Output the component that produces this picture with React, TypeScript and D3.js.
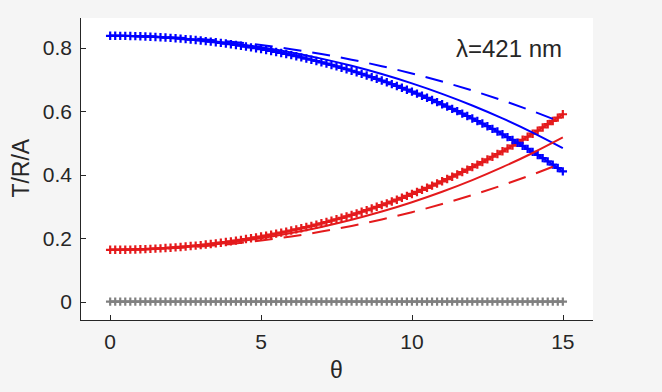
import React from "react";
import * as d3 from "d3";

// sampling grid of the marker curves (deg)
const thetaFine = [
  0, 0.167, 0.333, 0.5, 0.667, 0.833, 1, 1.167, 1.333, 1.5, 1.667, 1.833,
  2, 2.167, 2.333, 2.5, 2.667, 2.833, 3, 3.167, 3.333, 3.5, 3.667, 3.833,
  4, 4.167, 4.333, 4.5, 4.667, 4.833, 5, 5.167, 5.333, 5.5, 5.667, 5.833,
  6, 6.167, 6.333, 6.5, 6.667, 6.833, 7, 7.167, 7.333, 7.5, 7.667, 7.833,
  8, 8.167, 8.333, 8.5, 8.667, 8.833, 9, 9.167, 9.333, 9.5, 9.667, 9.833,
  10, 10.167, 10.333, 10.5, 10.667, 10.833, 11, 11.167, 11.333, 11.5, 11.667, 11.833,
  12, 12.167, 12.333, 12.5, 12.667, 12.833, 13, 13.167, 13.333, 13.5, 13.667, 13.833,
  14, 14.167, 14.333, 14.5, 14.667, 14.833, 15,
];

const transMarked = [
  0.837, 0.837, 0.8368, 0.8366, 0.8363, 0.8359, 0.8353, 0.8348, 0.8341, 0.8333,
  0.8324, 0.8314, 0.8304, 0.8292, 0.828, 0.8266, 0.8252, 0.8237, 0.8221, 0.8203,
  0.8185, 0.8166, 0.8146, 0.8125, 0.8103, 0.808, 0.8056, 0.8031, 0.8005, 0.7979,
  0.7951, 0.7922, 0.7892, 0.7861, 0.7829, 0.7796, 0.7762, 0.7727, 0.769, 0.7653,
  0.7615, 0.7576, 0.7535, 0.7494, 0.7451, 0.7407, 0.7362, 0.7316, 0.7269, 0.7221,
  0.7171, 0.712, 0.7069, 0.7016, 0.6961, 0.6906, 0.6849, 0.6791, 0.6732, 0.6672,
  0.661, 0.6547, 0.6483, 0.6417, 0.635, 0.6282, 0.6213, 0.6142, 0.6069, 0.5996,
  0.592, 0.5844, 0.5766, 0.5687, 0.5606, 0.5523, 0.5439, 0.5354, 0.5267, 0.5179,
  0.5089, 0.4997, 0.4904, 0.481, 0.4714, 0.4616, 0.4516, 0.4415, 0.4312, 0.4207,
  0.4101,
];

const reflMarked = [
  0.163, 0.163, 0.1632, 0.1634, 0.1637, 0.1641, 0.1647, 0.1652, 0.1659, 0.1667,
  0.1676, 0.1686, 0.1696, 0.1708, 0.172, 0.1734, 0.1748, 0.1763, 0.1779, 0.1797,
  0.1815, 0.1834, 0.1854, 0.1875, 0.1897, 0.192, 0.1944, 0.1969, 0.1995, 0.2021,
  0.2049, 0.2078, 0.2108, 0.2139, 0.2171, 0.2204, 0.2238, 0.2273, 0.231, 0.2347,
  0.2385, 0.2424, 0.2465, 0.2506, 0.2549, 0.2593, 0.2638, 0.2684, 0.2731, 0.2779,
  0.2829, 0.288, 0.2931, 0.2984, 0.3039, 0.3094, 0.3151, 0.3209, 0.3268, 0.3328,
  0.339, 0.3453, 0.3517, 0.3583, 0.365, 0.3718, 0.3787, 0.3858, 0.3931, 0.4004,
  0.408, 0.4156, 0.4234, 0.4313, 0.4394, 0.4477, 0.4561, 0.4646, 0.4733, 0.4821,
  0.4911, 0.5003, 0.5096, 0.519, 0.5286, 0.5384, 0.5484, 0.5585, 0.5688, 0.5793,
  0.5899,
];

const absMarked = [
  0, 0, 0, 0, 0, 0, 0, 0, 0, 0, 0, 0, 0, 0, 0, 0, 0, 0, 0, 0,
  0, 0, 0, 0, 0, 0, 0, 0, 0, 0, 0, 0, 0, 0, 0, 0, 0, 0, 0, 0,
  0, 0, 0, 0, 0, 0, 0, 0, 0, 0, 0, 0, 0, 0, 0, 0, 0, 0, 0, 0,
  0, 0, 0, 0, 0, 0, 0, 0, 0, 0, 0, 0, 0, 0, 0, 0, 0, 0, 0, 0,
  0, 0, 0, 0, 0, 0, 0, 0, 0, 0, 0,
];

// coarse grid of the solid / dashed curves
const thetaCoarse = [0, 1, 2, 3, 4, 5, 6, 7, 8, 9, 10, 11, 12, 13, 14, 15];
const transSolid = [0.837, 0.8356, 0.8312, 0.824, 0.8138, 0.8006, 0.7844, 0.765, 0.7424, 0.7165, 0.6871, 0.6541, 0.6174, 0.5768, 0.5321, 0.4831];
const transDashed = [0.837, 0.8358, 0.8324, 0.8265, 0.8184, 0.8078, 0.7949, 0.7796, 0.7617, 0.7413, 0.7184, 0.6928, 0.6646, 0.6335, 0.5997, 0.5628];
const reflSolid = [0.163, 0.1644, 0.1688, 0.176, 0.1862, 0.1994, 0.2156, 0.235, 0.2576, 0.2835, 0.3129, 0.3459, 0.3826, 0.4232, 0.4679, 0.5169];
const reflDashed = [0.163, 0.1642, 0.1676, 0.1735, 0.1816, 0.1922, 0.2051, 0.2204, 0.2383, 0.2587, 0.2816, 0.3072, 0.3354, 0.3665, 0.4003, 0.4372];

const xTicks = [0, 5, 10, 15];
const yTicks = [0, 0.2, 0.4, 0.6, 0.8];
const yTickLabels = ["0", "0.2", "0.4", "0.6", "0.8"];

const W = 662;
const H = 392;
const BLUE = "#0000ff";
const RED = "#e41a1c";
const GRAY = "#808080";
const INK = "#262626";
const FONT = "'Liberation Sans', Arial, sans-serif";

const x = d3.scaleLinear().domain([-1, 16]).range([80, 593]);
const y = d3.scaleLinear().domain([-0.058, 0.893]).range([320, 18]);

const zip = (xs: number[], ys: number[]): [number, number][] =>
  xs.map((t, i) => [t, ys[i]]);

const straight = d3
  .line<[number, number]>()
  .x((d) => x(d[0]))
  .y((d) => y(d[1]));

const smooth = d3
  .line<[number, number]>()
  .x((d) => x(d[0]))
  .y((d) => y(d[1]))
  .curve(d3.curveMonotoneX);

const Marked = ({ vals, color }: { vals: number[]; color: string }) => {
  const pts = zip(thetaFine, vals);
  const s = 4.2;
  return (
    <g stroke={color} strokeWidth={2.2} fill="none">
      <path d={straight(pts) || ""} />
      {pts.map(([t, v], i) => (
        <path
          key={i}
          d={`M${x(t) - s},${y(v)}H${x(t) + s}M${x(t)},${y(v) - s}V${y(v) + s}`}
        />
      ))}
    </g>
  );
};

export default function App() {
  return (
    <svg
      width={W}
      height={H}
      style={{ position: "absolute", left: 0, top: 0 }}
      fontFamily={FONT}
    >
      <rect width={W} height={H} fill="#f5f5f5" />
      <rect x={80} y={18} width={513} height={302} fill="#ffffff" />

      <Marked vals={absMarked} color={GRAY} />
      <Marked vals={reflMarked} color={RED} />
      <Marked vals={transMarked} color={BLUE} />

      <g fill="none" strokeWidth={2}>
        <path d={smooth(zip(thetaCoarse, transSolid)) || ""} stroke={BLUE} />
        <path d={smooth(zip(thetaCoarse, reflSolid)) || ""} stroke={RED} />
        <path d={smooth(zip(thetaCoarse, transDashed)) || ""} stroke={BLUE} strokeDasharray="18,11" />
        <path d={smooth(zip(thetaCoarse, reflDashed)) || ""} stroke={RED} strokeDasharray="18,11" />
      </g>

      {/* axes */}
      <g stroke={INK} strokeWidth={1} shapeRendering="crispEdges">
        <line x1={80.5} x2={80.5} y1={18} y2={320.5} />
        <line x1={80} x2={593} y1={320.5} y2={320.5} />
        {yTicks.map((t) => (
          <line key={t} x1={80} x2={86} y1={Math.round(y(t)) + 0.5} y2={Math.round(y(t)) + 0.5} />
        ))}
        {xTicks.map((t) => (
          <line key={t} x1={Math.round(x(t)) + 0.5} x2={Math.round(x(t)) + 0.5} y1={320} y2={315} />
        ))}
      </g>
      <g fill={INK} fontSize={21}>
        {yTicks.map((t, i) => (
          <text key={t} x={72} y={y(t)} dy="0.36em" textAnchor="end">
            {yTickLabels[i]}
          </text>
        ))}
        {xTicks.map((t) => (
          <text key={t} x={x(t)} y={349} textAnchor="middle">
            {t}
          </text>
        ))}
      </g>
      <text x={x(7.5)} y={378} textAnchor="middle" fontSize={23} fill={INK}>
        θ
      </text>
      <text
        transform={`translate(29,${y(0.42)}) rotate(-90)`}
        textAnchor="middle"
        fontSize={23}
        fill={INK}
      >
        T/R/A
      </text>
      <text x={562} y={57} textAnchor="end" fontSize={24} fill={INK}>
        λ=421 nm
      </text>
    </svg>
  );
}
